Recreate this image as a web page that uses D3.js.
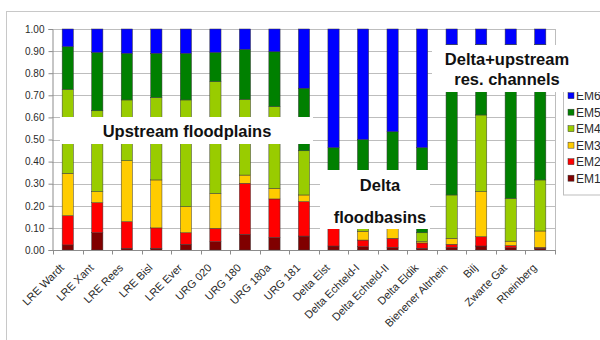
<!DOCTYPE html>
<html>
<head>
<meta charset="utf-8">
<script src="https://cdn.jsdelivr.net/npm/d3@7"></script>
<style>
  html, body { margin: 0; padding: 0; background: #fff; }
  svg { display: block; font-family: "Liberation Sans", Arial, sans-serif; }
</style>
</head>
<body>
<svg id="chart" width="600" height="340"></svg>
<script>
// Sample sites along the Rhine system
const categories = [
  "LRE Wardt", "LRE Xant", "LRE Rees", "LRE Bisl", "LRE Ever",
  "URG 020", "URG 180", "URG 180a", "URG 181",
  "Delta Elst", "Delta Echteld-I", "Delta Echteld-II", "Delta Eldik",
  "Bienener Altrhein", "Bilj", "Zwarte Gat", "Rheinberg"
];

// End-member fractions per site (each column sums to 1)
const EM1 = [0.023, 0.078, 0.008, 0.008, 0.026, 0.038, 0.071, 0.057, 0.063,
             0.018, 0.015, 0.012, 0.008, 0.012, 0.018, 0.010, 0.008];
const EM2 = [0.132, 0.136, 0.120, 0.092, 0.052, 0.060, 0.231, 0.174, 0.156,
             0.096, 0.030, 0.041, 0.024, 0.014, 0.042, 0.010, 0.004];
const EM3 = [0.192, 0.050, 0.276, 0.217, 0.118, 0.158, 0.037, 0.048, 0.030,
             0.030, 0.040, 0.060, 0.006, 0.027, 0.204, 0.020, 0.074];
const EM4 = [0.380, 0.366, 0.275, 0.373, 0.483, 0.506, 0.343, 0.370, 0.200,
             0.080, 0.080, 0.080, 0.040, 0.196, 0.347, 0.194, 0.231];
const EM5 = [0.193, 0.264, 0.211, 0.200, 0.211, 0.132, 0.226, 0.248, 0.283,
             0.239, 0.335, 0.342, 0.385, 0.681, 0.319, 0.696, 0.613];
const EM6 = [0.080, 0.106, 0.110, 0.110, 0.110, 0.106, 0.092, 0.103, 0.268,
             0.537, 0.500, 0.465, 0.537, 0.070, 0.070, 0.070, 0.070];

const seriesNames = ["EM1", "EM2", "EM3", "EM4", "EM5", "EM6"];
const seriesValues = [EM1, EM2, EM3, EM4, EM5, EM6];
const seriesColors = ["#800000", "#ff0000", "#ffcc00", "#99cc00", "#008000", "#0000ff"];

const yTicks = [0, 0.1, 0.2, 0.3, 0.4, 0.5, 0.6, 0.7, 0.8, 0.9, 1.0];

// Group labels, each printed on a white panel laid over the bars
const groupLabels = [
  { lines: ["Upstream floodplains"], box: [60, 117, 253, 27], at: [187, [136.5]] },
  { lines: ["Delta", "floodbasins"], box: [320, 170, 110, 59], at: [380, [190.5, 222.5]] },
  { lines: ["Delta+upstream", "res. channels"], box: [432, 45, 170, 47], at: [507, [64.5, 85]] }
];

const rows = categories.map((c, i) => {
  const r = { cat: c };
  seriesNames.forEach((s, k) => r[s] = seriesValues[k][i]);
  return r;
});

const svg = d3.select("#chart");
const plotLeft = 53, plotRight = 555, plotTop = 29, plotBottom = 250;

const x = d3.scaleBand().domain(categories).range([plotLeft, plotRight])
  .paddingInner(0.62).paddingOuter(0.31);
const y = d3.scaleLinear().domain([0, 1]).range([plotBottom, plotTop]);
const color = d3.scaleOrdinal().domain(seriesNames).range(seriesColors);

// outer chart frame
svg.append("rect").attr("x", 6.5).attr("y", 11.5).attr("width", 700).attr("height", 400)
  .attr("fill", "none").attr("stroke", "#c8c8c8");

// horizontal gridlines
svg.append("g").selectAll("line").data(yTicks.slice(1)).join("line")
  .attr("x1", plotLeft - 1).attr("x2", plotRight)
  .attr("y1", d => Math.round(y(d)) + 0.5).attr("y2", d => Math.round(y(d)) + 0.5)
  .attr("stroke", "#bdbdbd").attr("stroke-width", 1);

// plot area right edge
svg.append("line").attr("x1", plotRight + 0.5).attr("x2", plotRight + 0.5)
  .attr("y1", plotTop).attr("y2", plotBottom).attr("stroke", "#bdbdbd");

// stacked bars
const stack = d3.stack().keys(seriesNames);
svg.append("g").selectAll("g").data(stack(rows)).join("g")
  .attr("fill", d => color(d.key))
  .selectAll("rect").data(d => d).join("rect")
  .attr("x", d => x(d.data.cat))
  .attr("width", x.bandwidth())
  .attr("y", d => y(d[1]))
  .attr("height", d => y(d[0]) - y(d[1]))
  .attr("stroke", "#3a3a3a").attr("stroke-width", 0.5);

// y axis
const yAxis = d3.axisLeft(y).tickValues(yTicks).tickFormat(d3.format(".2f"))
  .tickSize(4).tickPadding(4);
const gy = svg.append("g").attr("transform", `translate(${plotLeft - 0.5},0)`).call(yAxis);
gy.select(".domain").attr("stroke", "#8c8c8c");
gy.selectAll(".tick line").attr("stroke", "#8c8c8c");
gy.selectAll("text").attr("font-size", 10).attr("fill", "#2a2a2a")
  .attr("font-family", "Liberation Sans, Arial, sans-serif");

// x axis with ticks between categories
const gx = svg.append("g").attr("transform", `translate(0,${plotBottom + 0.5})`);
gx.append("line").attr("x1", plotLeft - 1).attr("x2", plotRight + 1).attr("stroke", "#8c8c8c");
const step = x.step();
gx.selectAll("line.tk").data(d3.range(categories.length + 1)).join("line")
  .attr("class", "tk")
  .attr("x1", i => Math.round(plotLeft + i * step) + 0.5)
  .attr("x2", i => Math.round(plotLeft + i * step) + 0.5)
  .attr("y1", 0).attr("y2", 4).attr("stroke", "#8c8c8c");
gx.selectAll("text").data(categories).join("text")
  .attr("transform", d => `translate(${x(d) + x.bandwidth() / 2 - 3},${18}) rotate(-45)`)
  .attr("text-anchor", "end")
  .attr("font-size", 11).style("fill", "#2a2a2a")
  .text(d => d);

// legend
const lg = svg.append("g");
lg.append("rect").attr("x", 563.5).attr("y", 86.5).attr("width", 60).attr("height", 108.5)
  .attr("fill", "#fff").attr("stroke", "#bdbdbd");
const legendItems = seriesNames.slice().reverse();
lg.selectAll("g").data(legendItems).join("g")
  .attr("transform", (d, i) => `translate(568,${95.7 + i * 16.5})`)
  .each(function(d) {
    const g = d3.select(this);
    g.append("rect").attr("x", 0).attr("y", -3).attr("width", 6).attr("height", 6)
      .attr("fill", color(d)).attr("stroke", "#3a3a3a").attr("stroke-width", 0.5);
    g.append("text").attr("x", 8).attr("y", 4.5).attr("font-size", 12).style("fill", "#2a2a2a")
      .text(d);
  });

// group label panels
const gl = svg.append("g");
groupLabels.forEach(g => {
  gl.append("rect").attr("x", g.box[0]).attr("y", g.box[1])
    .attr("width", g.box[2]).attr("height", g.box[3]).attr("fill", "#fff");
  g.lines.forEach((t, k) => {
    gl.append("text").attr("x", g.at[0]).attr("y", g.at[1][k])
      .attr("text-anchor", "middle").attr("font-size", 16.5).attr("font-weight", "bold")
      .style("fill", "#111").text(t);
  });
});
</script>
</body>
</html>
